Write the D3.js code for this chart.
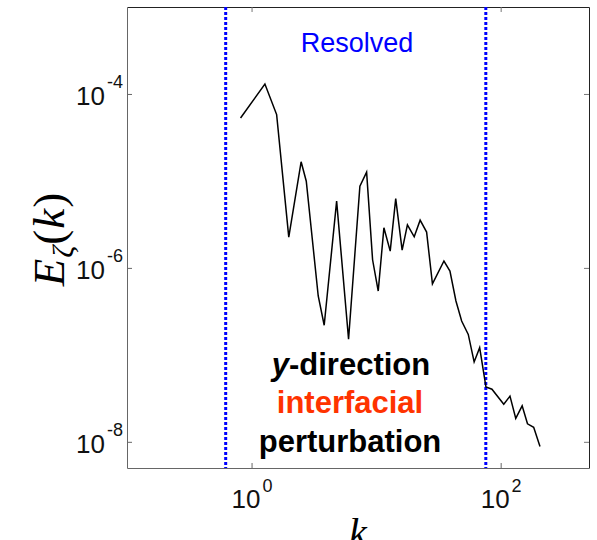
<!DOCTYPE html>
<html lang="en">
<head>
<meta charset="UTF-8">
<title>Spectrum</title>
<script src="https://cdn.jsdelivr.net/npm/d3@7/dist/d3.min.js"></script>
<style>
    body { margin: 0; background: #fff; }
</style>
</head>
<body>
<div id="chart"></div>
<script>
    // spectrum values
    const kVals = [0.816, 1.28, 1.59, 1.99, 2.50, 2.75, 3.43, 3.83, 4.82, 6.01,
                   7.41, 8.39, 9.37, 10.4, 11.55, 12.98, 14.37, 16.18, 17.84, 20.23,
                   22.57, 25.44, 28.33, 35.05, 39.16, 43.75, 48.62, 54.94, 61.25, 67.83,
                   71.43, 76.2, 85.14, 105.9, 118.8, 132.2, 148.8, 164.2, 184.1, 206.9]
    const eVals = [5.30e-5, 1.30e-4, 5.79e-5, 2.26e-6, 1.66e-5, 9.92e-6, 4.75e-7, 2.19e-7, 5.85e-6, 1.51e-7,
                   8.69e-6, 1.26e-5, 1.24e-6, 5.42e-7, 2.89e-6, 1.56e-6, 6.25e-6, 1.60e-6, 3.13e-6, 2.28e-6,
                   3.54e-6, 2.58e-6, 6.55e-7, 1.20e-6, 9.19e-7, 4.16e-7, 2.45e-7, 1.72e-7, 8.29e-8, 1.21e-7,
                   7.60e-8, 4.27e-8, 4.03e-8, 2.71e-8, 3.35e-8, 1.86e-8, 2.59e-8, 1.61e-8, 1.47e-8, 8.81e-9]
    const xTicks = [1, 100]
    const xExp = ['0', '2']
    const yTicks = [1e-4, 1e-6, 1e-8]
    const yExp = ['-4', '-6', '-8']
    const cutoffs = [0.62, 76]
    const notes = ['direction', 'interfacial', 'perturbation']

    const W = 597, H = 540
    const mLeft = 127, mRight = 589, mTop = 7, mBottom = 468
    const sans = 'Arial, "Liberation Sans", sans-serif'
    const serif = '"Liberation Serif", "Times New Roman", serif'

    const svg = d3.select('#chart').append('svg')
        .attr('width', W)
        .attr('height', H)
        .style('font-family', sans)

    const x = d3.scaleLog().domain([0.1, 512]).range([mLeft, mRight])
    const y = d3.scaleLog().domain([5e-9, 1e-3]).range([mBottom, mTop])

    // frame (top / right)
    svg.append('g')
        .attr('transform', `translate(0, ${mTop})`)
        .call(d3.axisTop(x).tickValues(xTicks).tickSizeInner(-5).tickSizeOuter(0).tickFormat(''))
        .call(g => g.select('.domain').attr('stroke', '#222'))
        .call(g => g.selectAll('.tick line').attr('stroke', '#777'))
    svg.append('g')
        .attr('transform', `translate(${mRight}, 0)`)
        .call(d3.axisRight(y).tickValues(yTicks).tickSizeInner(-5).tickSizeOuter(0).tickFormat(''))
        .call(g => g.select('.domain').attr('stroke', '#222'))
        .call(g => g.selectAll('.tick line').attr('stroke', '#777'))

    // bottom axis
    const gx = svg.append('g')
        .attr('transform', `translate(0, ${mBottom})`)
        .call(d3.axisBottom(x).tickValues(xTicks).tickSizeInner(-5).tickSizeOuter(0))
    gx.attr('font-family', null)
    gx.select('.domain').attr('stroke', '#666')
    gx.selectAll('.tick line').attr('stroke', '#666')
    gx.selectAll('.tick text').each(function (d, i) {
        const t = d3.select(this).text(null)
            .attr('y', 40).attr('dy', null)
            .attr('fill', '#111').attr('font-size', 26)
            .attr('text-anchor', 'middle')
        t.append('tspan').text('10')
        t.append('tspan').attr('dy', -16).attr('dx', 2).attr('font-size', 18).text(xExp[i])
    })

    // left axis
    const gy = svg.append('g')
        .attr('transform', `translate(${mLeft}, 0)`)
        .call(d3.axisLeft(y).tickValues(yTicks).tickSizeInner(-5).tickSizeOuter(0))
    gy.attr('font-family', null)
    gy.select('.domain').attr('stroke', '#666')
    gy.selectAll('.tick line').attr('stroke', '#666')
    gy.selectAll('.tick text').each(function (d, i) {
        const t = d3.select(this).text(null)
            .attr('x', -4).attr('dy', 10.5)
            .attr('fill', '#111').attr('font-size', 26)
            .attr('text-anchor', 'end')
        t.append('tspan').text('10')
        t.append('tspan').attr('dy', -17).attr('dx', 2).attr('font-size', 18).text(yExp[i])
    })

    // resolved range
    svg.selectAll('.cut')
        .data(cutoffs)
        .enter()
        .append('line')
        .attr('class', 'cut')
        .attr('x1', d => x(d)).attr('x2', d => x(d))
        .attr('y1', mTop).attr('y2', mBottom)
        .attr('stroke', '#0000ff')
        .attr('stroke-width', 3)
        .attr('stroke-dasharray', '3,2')

    // spectrum
    const line = d3.line()
        .x((d, i) => x(kVals[i]))
        .y(d => y(d))
    svg.append('path')
        .datum(eVals)
        .attr('d', line)
        .attr('fill', 'none')
        .attr('stroke', '#000')
        .attr('stroke-width', 1.5)
        .attr('stroke-linejoin', 'miter')

    svg.append('text')
        .attr('x', 357).attr('y', 52)
        .attr('text-anchor', 'middle')
        .attr('font-size', 27)
        .attr('fill', '#0000ff')
        .text('Resolved')

    const note = svg.append('g')
        .attr('font-size', 31)
        .attr('font-weight', 'bold')
        .attr('text-anchor', 'middle')
    const l1 = note.append('text').attr('x', 351).attr('y', 375).attr('fill', '#000')
    l1.append('tspan').attr('font-style', 'italic').text('y')
    l1.append('tspan').text('-' + notes[0])
    note.append('text').attr('x', 350).attr('y', 413).attr('fill', '#ff3300').text(notes[1])
    note.append('text').attr('x', 350).attr('y', 452).attr('fill', '#000').text(notes[2])

    // axis titles
    svg.append('text')
        .attr('x', 358).attr('y', 546)
        .attr('text-anchor', 'middle')
        .style('font-family', serif)
        .attr('font-style', 'italic')
        .attr('font-size', 40)
        .text('k')

    const yl = svg.append('text')
        .attr('transform', 'translate(64, 239) rotate(-90)')
        .attr('text-anchor', 'middle')
        .style('font-family', serif)
        .attr('font-style', 'italic')
        .attr('font-size', 45)
        .attr('letter-spacing', 1)
    yl.append('tspan').text('E')
    yl.append('tspan').attr('font-size', 30).attr('dy', 9).text('ζ')
    yl.append('tspan').attr('dy', -9).attr('font-style', 'normal').text('(')
    yl.append('tspan').text('k')
    yl.append('tspan').attr('font-style', 'normal').text(')')
</script>
</body>
</html>
